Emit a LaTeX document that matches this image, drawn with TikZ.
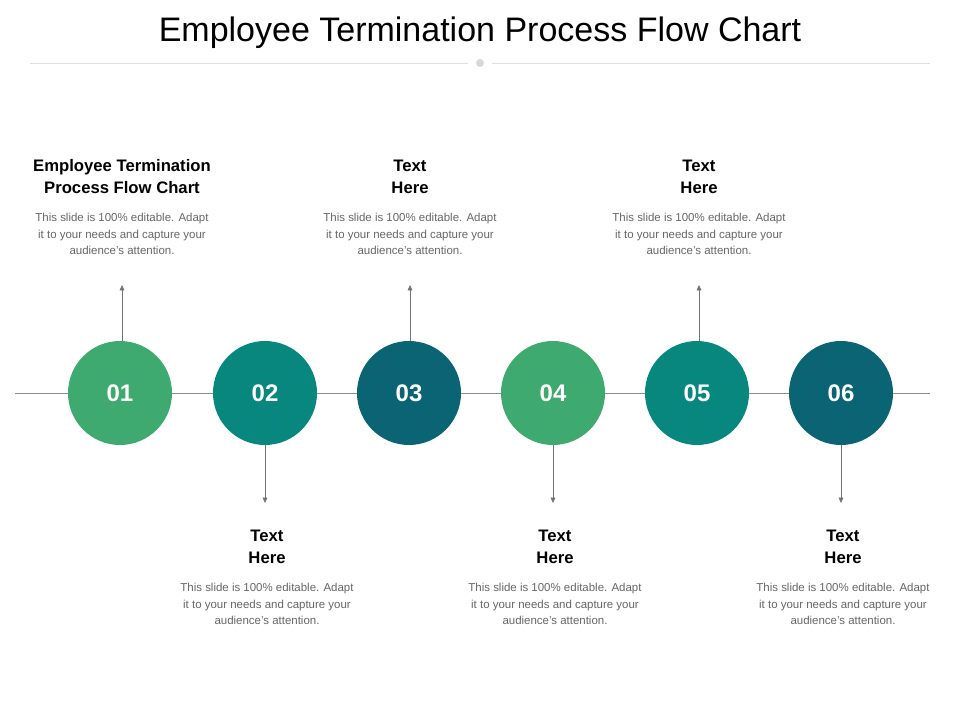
\documentclass[tikz,border=0pt]{standalone}
\usepackage{fontspec}
\setmainfont{Liberation Sans}
\usetikzlibrary{arrows.meta}
\definecolor{cgreen}{HTML}{3FAA6F}
\definecolor{cteal}{HTML}{08877E}
\definecolor{cdark}{HTML}{0B6473}
\tikzstyle{stepdot} = [circle, minimum size=78pt, inner sep=0pt, text=white, font=\fontsize{18}{20}\selectfont\bfseries]
\tikzstyle{head} = [align=center, font=\fontsize{12.5}{16.5}\selectfont\bfseries]
\tikzstyle{body} = [align=center, text=black!60, font=\fontsize{8.6}{12.3}\selectfont]
\tikzstyle{line} = [draw, black!55, -{Triangle[length=4pt,width=3.5pt]}]
\begin{document}
\begin{tikzpicture}[x=0.75pt,y=-0.75pt]
    \useasboundingbox (0,0) rectangle (960,720);
    \node[font=\fontsize{25.5}{30}\selectfont] (title) at (480,33) {Employee Termination Process Flow Chart};
    \draw[black!12] (30,63) -- (468,63);
    \draw[black!12] (492,63) -- (930,63);
    \fill[black!15] (480,63) circle (4);
    \draw[black!45] (15,393) -- (930,393);

    % Circles
    \node[stepdot, fill=cgreen] (s1) at (120,393) {01};
    \node[stepdot, fill=cteal] (s2) at (265,393) {02};
    \node[stepdot, fill=cdark] (s3) at (409,393) {03};
    \node[stepdot, fill=cgreen] (s4) at (553,393) {04};
    \node[stepdot, fill=cteal] (s5) at (697,393) {05};
    \node[stepdot, fill=cdark] (s6) at (841,393) {06};

    % Top labels
    \node[head] (h1) at (122,177) {Employee Termination\\Process Flow Chart};
    \node[head] (h3) at (410,177) {Text\\Here};
    \node[head] (h5) at (699,177) {Text\\Here};
    \node[body] (b1) at (122,234) {This slide is 100\% editable. Adapt\\it to your needs and capture your\\audience's attention.};
    \node[body] (b3) at (410,234) {This slide is 100\% editable. Adapt\\it to your needs and capture your\\audience's attention.};
    \node[body] (b5) at (699,234) {This slide is 100\% editable. Adapt\\it to your needs and capture your\\audience's attention.};

    % Bottom labels
    \node[head] (h2) at (267,547) {Text\\Here};
    \node[head] (h4) at (555,547) {Text\\Here};
    \node[head] (h6) at (843,547) {Text\\Here};
    \node[body] (b2) at (267,604) {This slide is 100\% editable. Adapt\\it to your needs and capture your\\audience's attention.};
    \node[body] (b4) at (555,604) {This slide is 100\% editable. Adapt\\it to your needs and capture your\\audience's attention.};
    \node[body] (b6) at (843,604) {This slide is 100\% editable. Adapt\\it to your needs and capture your\\audience's attention.};

    % Arrows
    \coordinate (t1) at (122,285);
    \coordinate (t3) at (410,285);
    \coordinate (t5) at (699,285);
    \coordinate (d2) at (265,503);
    \coordinate (d4) at (553,503);
    \coordinate (d6) at (841,503);
    \path[line] (s1.north -| t1) -- (t1);
    \path[line] (s3.north -| t3) -- (t3);
    \path[line] (s5.north -| t5) -- (t5);
    \path[line] (s2) -- (d2);
    \path[line] (s4) -- (d4);
    \path[line] (s6) -- (d6);
\end{tikzpicture}
\end{document}
